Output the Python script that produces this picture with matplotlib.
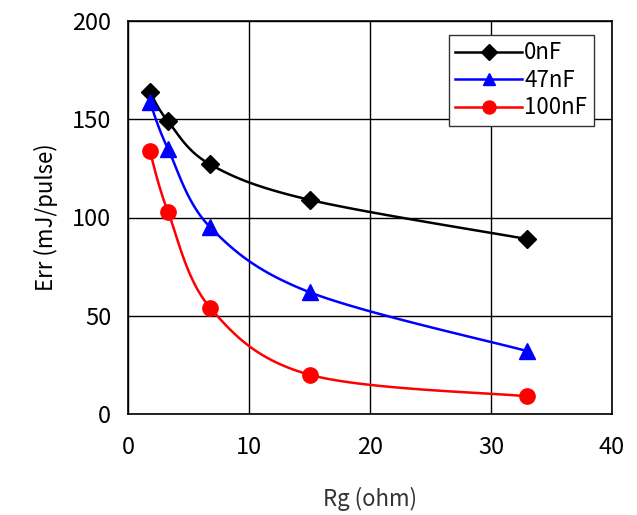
import numpy as np
import matplotlib
matplotlib.use("Agg")
import matplotlib.pyplot as plt

rg = [1.8, 3.3, 6.8, 15, 33]
err_0nF = [164, 149, 127, 109, 89]
err_47nF = [159, 135, 95, 62, 32]
err_100nF = [134, 103, 54, 20, 9]
labels = ["0nF", "47nF", "100nF"]

plt.rcParams['font.family'] = ['Noto Sans CJK JP', 'DejaVu Sans']


def smooth(x, y, n=30):
    # Excel-like smoothed line (Catmull-Rom / cubic Bezier through points)
    x = np.asarray(x, float)
    y = np.asarray(y, float)
    px, py = [], []
    t = np.linspace(0, 1, n)
    for i in range(len(x) - 1):
        x0, y0 = (x[i - 1], y[i - 1]) if i > 0 else (x[i], y[i])
        x3, y3 = (x[i + 2], y[i + 2]) if i + 2 < len(x) else (x[i + 1], y[i + 1])
        x1, y1 = x[i], y[i]
        x2, y2 = x[i + 1], y[i + 1]
        k = 1 / 6
        c1x, c1y = x1 + (x2 - x0) * k, y1 + (y2 - y0) * k
        c2x, c2y = x2 - (x3 - x1) * k, y2 - (y3 - y1) * k
        bx = (1 - t) ** 3 * x1 + 3 * (1 - t) ** 2 * t * c1x + 3 * (1 - t) * t ** 2 * c2x + t ** 3 * x2
        by = (1 - t) ** 3 * y1 + 3 * (1 - t) ** 2 * t * c1y + 3 * (1 - t) * t ** 2 * c2y + t ** 3 * y2
        px.extend(bx)
        py.extend(by)
    return px, py


fig = plt.figure(figsize=(6.37, 5.15), dpi=100)
ax = fig.add_axes([128 / 637, 1 - 414 / 515, (612 - 128) / 637, (414 - 21) / 515])

series = [
    (err_0nF, "black", "D", 9),
    (err_47nF, "blue", "^", 11),
    (err_100nF, "red", "o", 11),
]
handles = []
for (vals, col, mk, ms), lab in zip(series, labels):
    sx, sy = smooth(rg, vals)
    ax.plot(sx, sy, color=col, lw=1.8, zorder=3)
    ax.plot(rg, vals, ls="none", marker=mk, color=col, ms=ms, zorder=4)
    h, = ax.plot([], [], color=col, lw=1.8, marker=mk, ms=ms * 0.85, label=lab)
    handles.append(h)

ax.set_xlim(0, 40)
ax.set_ylim(0, 200)
ax.set_xticks([0, 10, 20, 30, 40])
ax.set_yticks([0, 50, 100, 150, 200])
ax.grid(True, color="black", lw=1.0)
ax.set_axisbelow(True)
for s in ax.spines.values():
    s.set_color("black")
    s.set_linewidth(1.2)
ax.tick_params(axis="y", length=0, labelsize=17, pad=12)
ax.tick_params(axis="x", length=0, labelsize=17, pad=16)

ax.set_xlabel("Rg (ohm)", fontsize=16, labelpad=20, color="#333333")
ax.set_ylabel("Err (mJ/pulse)", fontsize=16, labelpad=10)

leg = ax.legend(handles=handles, loc="upper right", bbox_to_anchor=(0.962, 0.965),
                fontsize=16, frameon=True, fancybox=False, handlelength=3.0,
                borderpad=0.3, labelspacing=0.2, handletextpad=0.1,
                borderaxespad=0)
leg.get_frame().set_edgecolor("#333333")
leg.get_frame().set_linewidth(1.0)
leg.get_frame().set_alpha(1)

fig.savefig("out.png", dpi=100, facecolor="white")
